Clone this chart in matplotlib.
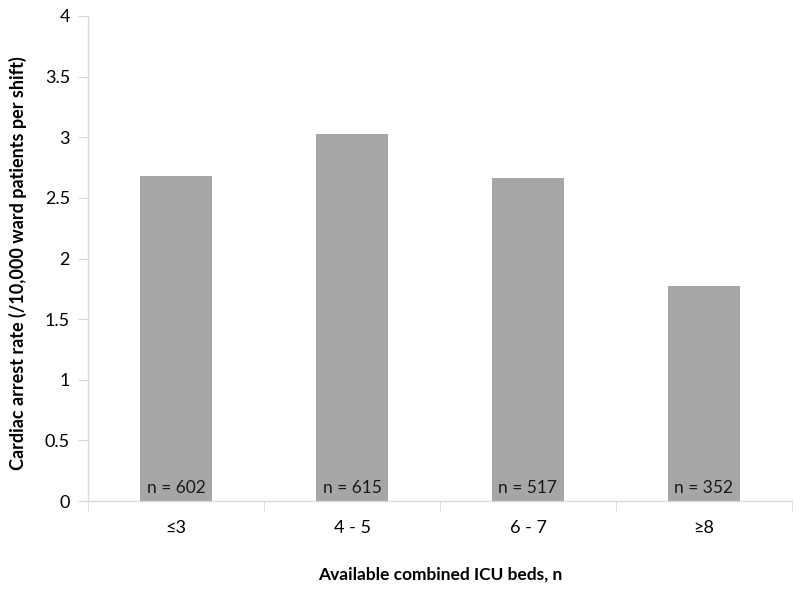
import matplotlib
matplotlib.use("Agg")
import matplotlib.pyplot as plt
import numpy as np

categories = ["≤3", "4 - 5", "6 - 7", "≥8"]
rates = [2.68, 3.03, 2.66, 1.77]
n_labels = ["n = 602", "n = 615", "n = 517", "n = 352"]
yticks = [0, 0.5, 1, 1.5, 2, 2.5, 3, 3.5, 4]

plt.rcParams['font.family'] = ['Lato', 'DejaVu Sans']

fig = plt.figure(figsize=(8, 5.89), dpi=100)
ax = fig.add_axes([88/800, 1 - 501/589, (792-88)/800, (501-16)/589])

x = np.arange(len(categories))
ax.bar(x, rates, width=0.405, color='#A6A6A6', zorder=2)
for xi, lab in zip(x, n_labels):
    ax.text(xi, 0.04, lab, ha='center', va='bottom', fontsize=12.5, color='#1a1a1a', zorder=3)

ax.set_xlim(-0.5, len(categories) - 0.5)
ax.set_ylim(0, 4)
ax.set_yticks(yticks)
ax.set_yticklabels([f"{v:g}" for v in yticks], fontsize=13)
ax.set_xticks(x)
ax.set_xticklabels(categories, fontsize=13)
ax.tick_params(axis='x', length=0, pad=14)
ax.tick_params(axis='y', length=7, color='#D9D9D9', pad=6)
ax.set_xticks(np.arange(-0.5, len(categories), 1), minor=True)
ax.tick_params(axis='x', which='minor', length=7, color='#D9D9D9')

for s in ['top', 'right']:
    ax.spines[s].set_visible(False)
for s in ['left', 'bottom']:
    ax.spines[s].set_color('#D9D9D9')
    ax.spines[s].set_linewidth(1)

ax.set_ylabel("Cardiac arrest rate (/10,000 ward patients per shift)", fontsize=13, fontweight='bold')
ax.yaxis.set_label_coords(-61/704, 0.49)
ax.set_xlabel("Available combined ICU beds, n", fontsize=12.5, fontweight='bold', labelpad=22)

fig.savefig("out.png", dpi=100)
